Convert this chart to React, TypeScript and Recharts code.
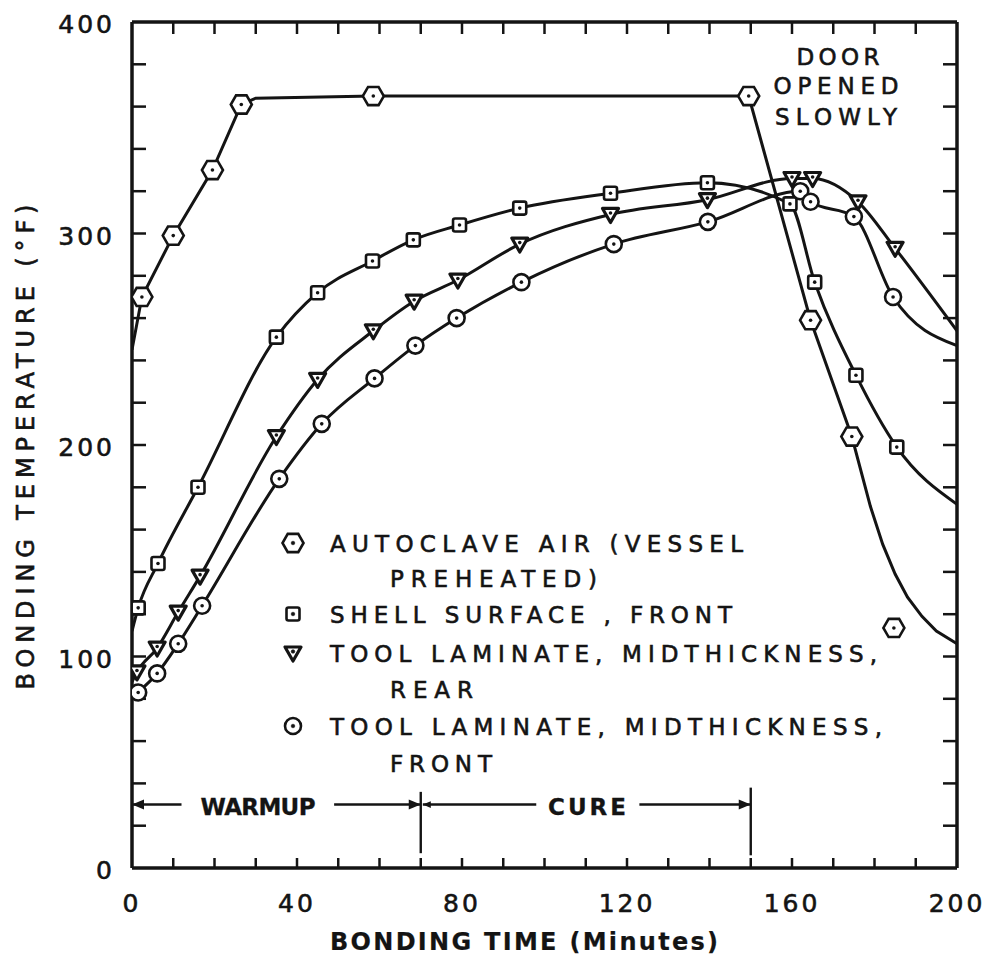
import React from 'react';
import { LineChart, Line, XAxis, YAxis, ReferenceLine } from 'recharts';

type Pt = { t: number; temp: number; mark?: boolean };
type Kind = 'hex' | 'square' | 'tri' | 'circle';

const FONT = '"DejaVu Sans", Verdana, sans-serif';
const INK = '#141414';

// axis ticks
const xTicks = [0, 40, 80, 120, 160, 200];
const yTicks = [0, 100, 200, 300, 400];
const xMinorTicks = [10, 20, 30, 40, 50, 60, 70, 80, 90, 100, 110, 120, 130, 140, 150, 160, 170, 180, 190];
const yMinorTicks = [20, 40, 60, 80, 100, 120, 140, 160, 180, 200, 220, 240, 260, 280, 300, 320, 340, 360, 380];

// autoclave air (vessel preheated) - hexagons
const autoclaveAir: Pt[] = [
  { t: 0, temp: 245, mark: false },
  { t: 2.4, temp: 270 },
  { t: 10, temp: 299 },
  { t: 19.5, temp: 330 },
  { t: 26.5, temp: 361 },
  { t: 30, temp: 364, mark: false },
  { t: 58.5, temp: 365 },
  { t: 149.5, temp: 365 },
  { t: 164.5, temp: 259 },
  { t: 174.5, temp: 204 },
  { t: 179, temp: 171, mark: false },
  { t: 182, temp: 153, mark: false },
  { t: 185, temp: 139, mark: false },
  { t: 188, temp: 128, mark: false },
  { t: 191.5, temp: 119, mark: false },
  { t: 195, temp: 112, mark: false },
  { t: 200, temp: 106, mark: false },
];
const autoclaveStray: Pt[] = [{ t: 184.7, temp: 113.5 }];

// shell surface, front - squares
const shellFront: Pt[] = [
  { t: 0, temp: 112, mark: false },
  { t: 1.5, temp: 123 },
  { t: 6.3, temp: 144 },
  { t: 16, temp: 180 },
  { t: 35, temp: 251 },
  { t: 45, temp: 272 },
  { t: 58.3, temp: 287 },
  { t: 68.2, temp: 297 },
  { t: 79.4, temp: 304 },
  { t: 94, temp: 312 },
  { t: 116, temp: 319 },
  { t: 139.5, temp: 324 },
  { t: 159.5, temp: 314 },
  { t: 165.5, temp: 277 },
  { t: 175.5, temp: 233 },
  { t: 185.4, temp: 199 },
  { t: 200, temp: 172, mark: false },
];

// tool laminate, midthickness, rear - triangles
const laminateRear: Pt[] = [
  { t: 0, temp: 88, mark: false },
  { t: 1.2, temp: 92.7 },
  { t: 6.1, temp: 104 },
  { t: 11.2, temp: 121 },
  { t: 16.5, temp: 138 },
  { t: 35, temp: 204 },
  { t: 45, temp: 231 },
  { t: 58.5, temp: 254 },
  { t: 68.4, temp: 268 },
  { t: 79, temp: 278 },
  { t: 94, temp: 295 },
  { t: 116, temp: 309 },
  { t: 139.5, temp: 316 },
  { t: 160, temp: 326 },
  { t: 165, temp: 326 },
  { t: 176, temp: 315 },
  { t: 185, temp: 293 },
  { t: 200, temp: 254, mark: false },
];

// tool laminate, midthickness, front - circles
const laminateFront: Pt[] = [
  { t: 0, temp: 80, mark: false },
  { t: 1.5, temp: 83 },
  { t: 6.1, temp: 92 },
  { t: 11.2, temp: 106 },
  { t: 17, temp: 124 },
  { t: 35.7, temp: 184 },
  { t: 46, temp: 210 },
  { t: 58.8, temp: 231.5 },
  { t: 68.7, temp: 247 },
  { t: 78.7, temp: 260 },
  { t: 94.4, temp: 277 },
  { t: 116.8, temp: 295 },
  { t: 139.6, temp: 305.5 },
  { t: 162, temp: 320 },
  { t: 164.5, temp: 315 },
  { t: 175, temp: 308 },
  { t: 184.5, temp: 270 },
  { t: 200, temp: 247, mark: false },
];

function Marker({ kind, cx, cy }: { kind: Kind; cx: number; cy: number }) {
  const sw = 2.6;
  let shape: React.ReactNode = null;
  if (kind === 'hex') {
    const r = 10.5;
    const pts = [0, 1, 2, 3, 4, 5]
      .map((i) => `${cx + r * Math.cos((Math.PI / 3) * i)},${cy + r * Math.sin((Math.PI / 3) * i)}`)
      .join(' ');
    shape = <polygon points={pts} fill="#fff" stroke={INK} strokeWidth={sw} />;
  } else if (kind === 'square') {
    shape = <rect x={cx - 6.5} y={cy - 6.5} width={13} height={13} rx={2} fill="#fff" stroke={INK} strokeWidth={sw} />;
  } else if (kind === 'tri') {
    shape = (
      <polygon
        points={`${cx - 8},${cy - 6} ${cx + 8},${cy - 6} ${cx},${cy + 8}`}
        fill="#fff"
        stroke={INK}
        strokeWidth={sw + 0.6}
        strokeLinejoin="round"
      />
    );
  } else {
    shape = <circle cx={cx} cy={cy} r={8} fill="#fff" stroke={INK} strokeWidth={sw} />;
  }
  return (
    <g>
      {shape}
      <circle cx={cx} cy={kind === 'tri' ? cy - 1.5 : cy} r={1.8} fill={INK} />
    </g>
  );
}

const makeDot = (kind: Kind) => (props: any) => {
  const { cx, cy, payload, index } = props;
  if (cx == null || cy == null || (payload && payload.mark === false)) {
    return <g key={`${kind}-n-${index}`} />;
  }
  return (
    <g key={`${kind}-m-${index}`}>
      <Marker kind={kind} cx={cx} cy={cy} />
    </g>
  );
};

const textInk = { fill: INK, stroke: INK, strokeWidth: 0.6 };

const XTick = (props: any) => {
  const { x, y, payload } = props;
  return (
    <text x={x} y={y + 36} textAnchor="middle" fontFamily={FONT} fontSize={25} letterSpacing={3} {...textInk}>
      {payload.value}
    </text>
  );
};

const YTick = (props: any) => {
  const { x, y, payload } = props;
  return (
    <text x={x - 9} y={y + 11} textAnchor="end" fontFamily={FONT} fontSize={25} letterSpacing={3} {...textInk}>
      {payload.value}
    </text>
  );
};

// tick marks only, no label
const NoLabel = () => <g />;

const ArrowSeg = (props: any) => {
  const { x1, y1, x2, y2, head, size = 12 } = props;
  const dx = x2 - x1;
  const dy = y2 - y1;
  const len = Math.sqrt(dx * dx + dy * dy) || 1;
  const ux = dx / len;
  const uy = dy / len;
  const w = size * 0.42;
  const bx = x2 - ux * size;
  const by = y2 - uy * size;
  return (
    <g>
      <line x1={x1} y1={y1} x2={x2} y2={y2} stroke={INK} strokeWidth={2.4} />
      {head ? (
        <polygon
          points={`${x2},${y2} ${bx - uy * w},${by + ux * w} ${bx + uy * w},${by - ux * w}`}
          fill={INK}
        />
      ) : null}
    </g>
  );
};

const legendRows = [
  { kind: 'hex' as Kind, text: 'AUTOCLAVE AIR (VESSEL', x: 330, y: 552, len: 413 },
  { kind: null, text: 'PREHEATED)', x: 390, y: 587, len: 207 },
  { kind: 'square' as Kind, text: 'SHELL SURFACE , FRONT', x: 330, y: 623, len: 402 },
  { kind: 'tri' as Kind, text: 'TOOL LAMINATE,  MIDTHICKNESS,', x: 330, y: 662, len: 547 },
  { kind: null, text: 'REAR', x: 390, y: 698, len: 83 },
  { kind: 'circle' as Kind, text: 'TOOL LAMINATE,  MIDTHICKNESS,', x: 330, y: 735, len: 552 },
  { kind: null, text: 'FRONT', x: 390, y: 772, len: 102 },
];

export default function App() {
  const lineCommon = {
    xAxisId: 'b',
    yAxisId: 'l',
    dataKey: 'temp',
    type: 'monotone' as const,
    stroke: INK,
    strokeWidth: 3,
    isAnimationActive: false,
    activeDot: false as const,
  };

  const tickMark = { stroke: INK, strokeWidth: 2.5 };

  return (
    <div style={{ position: 'absolute', left: 0, top: 0, width: 988, height: 960, background: '#fff' }}>
      <LineChart width={988} height={960} margin={{ top: 22, right: 31, bottom: 0, left: 0 }}>
        <XAxis
          xAxisId="b"
          type="number"
          dataKey="t"
          domain={[0, 200]}
          allowDataOverflow
          ticks={xTicks}
          interval={0}
          height={92}
          tickLine={false}
          axisLine={{ stroke: INK, strokeWidth: 3.5 }}
          tick={<XTick />}
        />
        <XAxis
          xAxisId="bm"
          type="number"
          dataKey="t"
          domain={[0, 200]}
          allowDataOverflow
          orientation="bottom"
          mirror
          height={1}
          ticks={xMinorTicks}
          interval={0}
          tick={<NoLabel />}
          tickSize={10}
          tickLine={tickMark}
          axisLine={false}
        />
        <XAxis
          xAxisId="tm"
          type="number"
          dataKey="t"
          domain={[0, 200]}
          allowDataOverflow
          orientation="top"
          mirror
          height={1}
          ticks={xMinorTicks}
          interval={0}
          tick={<NoLabel />}
          tickSize={12}
          tickLine={tickMark}
          axisLine={{ stroke: INK, strokeWidth: 3.5 }}
        />
        <YAxis
          yAxisId="l"
          type="number"
          domain={[0, 400]}
          allowDataOverflow
          ticks={yTicks}
          interval={0}
          width={132}
          tickLine={false}
          axisLine={{ stroke: INK, strokeWidth: 3.5 }}
          tick={<YTick />}
        />
        <YAxis
          yAxisId="lm"
          type="number"
          domain={[0, 400]}
          allowDataOverflow
          orientation="left"
          mirror
          width={1}
          ticks={yMinorTicks}
          interval={0}
          tick={<NoLabel />}
          tickSize={14}
          tickLine={tickMark}
          axisLine={false}
        />
        <YAxis
          yAxisId="rm"
          type="number"
          domain={[0, 400]}
          allowDataOverflow
          orientation="right"
          mirror
          width={1}
          ticks={yMinorTicks}
          interval={0}
          tick={<NoLabel />}
          tickSize={14}
          tickLine={tickMark}
          axisLine={{ stroke: INK, strokeWidth: 3.5 }}
        />

        {/* warmup / cure period markers */}
        <ReferenceLine xAxisId="b" yAxisId="l" segment={[{ x: 12, y: 30 }, { x: 0, y: 30 }]} shape={(p: any) => <ArrowSeg {...p} head />} />
        <ReferenceLine xAxisId="b" yAxisId="l" segment={[{ x: 49, y: 30 }, { x: 70, y: 30 }]} shape={(p: any) => <ArrowSeg {...p} head />} />
        <ReferenceLine xAxisId="b" yAxisId="l" segment={[{ x: 98, y: 30 }, { x: 70.5, y: 30 }]} shape={(p: any) => <ArrowSeg {...p} head size={8} />} />
        <ReferenceLine xAxisId="b" yAxisId="l" segment={[{ x: 123, y: 30 }, { x: 150, y: 30 }]} shape={(p: any) => <ArrowSeg {...p} head />} />
        <ReferenceLine xAxisId="b" yAxisId="l" segment={[{ x: 70, y: 7 }, { x: 70, y: 36 }]} shape={(p: any) => <ArrowSeg {...p} />} />
        <ReferenceLine xAxisId="b" yAxisId="l" segment={[{ x: 150, y: 6 }, { x: 150, y: 38 }]} shape={(p: any) => <ArrowSeg {...p} />} />

        <Line {...lineCommon} type="linear" data={autoclaveAir} dot={makeDot('hex')} name="Autoclave air" />
        <Line {...lineCommon} data={shellFront} dot={makeDot('square')} name="Shell surface, front" />
        <Line {...lineCommon} data={laminateRear} dot={makeDot('tri')} name="Tool laminate, rear" />
        <Line {...lineCommon} data={laminateFront} dot={makeDot('circle')} name="Tool laminate, front" />
        <Line {...lineCommon} data={autoclaveStray} stroke="none" dot={makeDot('hex')} name="Autoclave air (late)" legendType="none" />
      </LineChart>

      <svg width={988} height={960} style={{ position: 'absolute', left: 0, top: 0, pointerEvents: 'none' }}>
        <g fontFamily={FONT} {...textInk}>
          <text transform="translate(34,447) rotate(-90)" textAnchor="middle" fontSize={24} textLength={485}>
            BONDING TEMPERATURE (°F)
          </text>
          <text x={524} y={950} textAnchor="middle" fontSize={24} fontWeight="bold" strokeWidth={0.2} textLength={388}>
            BONDING TIME (Minutes)
          </text>

          <text x={838} y={65} textAnchor="middle" fontSize={23} textLength={83}>DOOR</text>
          <text x={836} y={94} textAnchor="middle" fontSize={23} textLength={125}>OPENED</text>
          <text x={836} y={125} textAnchor="middle" fontSize={23} textLength={122}>SLOWLY</text>

          <text x={258} y={815} textAnchor="middle" fontSize={23} fontWeight="bold" strokeWidth={0.3} textLength={115}>WARMUP</text>
          <text x={587} y={815} textAnchor="middle" fontSize={23} fontWeight="bold" strokeWidth={0.3} textLength={78}>CURE</text>

          {legendRows.map((r, i) => (
            <g key={i}>
              {r.kind ? <Marker kind={r.kind} cx={293} cy={r.y - 9} /> : null}
              <text x={r.x} y={r.y} fontSize={23} textLength={r.len}>
                {r.text}
              </text>
            </g>
          ))}
        </g>
      </svg>
    </div>
  );
}
